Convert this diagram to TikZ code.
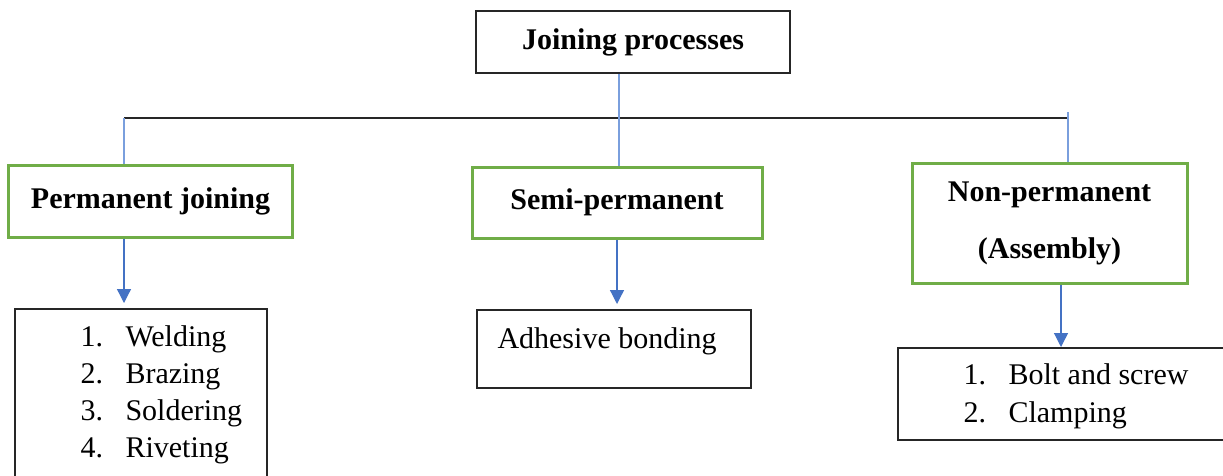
\documentclass[tikz,border=0pt]{standalone}
\usepackage{fontspec}
\setmainfont{Liberation Serif}
\usepackage{tikz}
\usetikzlibrary{arrows.meta}
\definecolor{catgreen}{HTML}{70AD47}
\definecolor{tipblue}{HTML}{4472C4}
\definecolor{linkblue}{HTML}{7A9FDD}
\tikzset{mainbox/.style={draw=black!85, line width=0.8pt, inner sep=0pt, font=\fontsize{12}{14}\selectfont\bfseries}}
\tikzset{catbox/.style={draw=catgreen, line width=1.2pt, inner sep=0pt, font=\fontsize{12}{22.8}\selectfont\bfseries}}
\tikzset{listbox/.style={draw=black!85, line width=0.8pt, inner sep=0pt}}
\tikzset{entry/.style={anchor=base west, inner sep=0pt, font=\fontsize{12}{14}\selectfont}}
\tikzset{link/.style={draw=linkblue, line width=0.5pt}}
\tikzset{down/.style={draw=tipblue, line width=0.5pt, -{Triangle[width=5.6pt,length=5.6pt]}}}
\newcommand{\numitem}[2]{\makebox[18pt][l]{#1}#2}

\begin{document}
\begin{tikzpicture}[x=0.4pt, y=-0.4pt]
\clip (0,0) rectangle (1223,475);
\fill[white] (0,0) rectangle (1223,475);
% top and category boxes
\node[mainbox, minimum width=125.6pt, minimum height=24.8pt] (jp) at (633,42) {Joining processes};
\node[catbox, minimum width=113.2pt, minimum height=28.8pt] (perm) at (150.5,201) {Permanent joining};
\node[catbox, minimum width=116pt, minimum height=28.4pt] (semi) at (617,202.5) {Semi-permanent};
\node[catbox, minimum width=110pt, minimum height=48pt, align=center] (nonp) at (1049.5,223) {Non-permanent\\(Assembly)};
% list boxes
\node[listbox, minimum width=100.8pt, minimum height=72.4pt] (permlist) at (141,399.5) {};
\node[entry] (weld) at (80,346) {\numitem{1.}{Welding}};
\node[entry] (braze) at (80,383) {\numitem{2.}{Brazing}};
\node[entry] (solder) at (80,420) {\numitem{3.}{Soldering}};
\node[entry] (rivet) at (80,457) {\numitem{4.}{Riveting}};
\node[listbox, minimum width=109.6pt, minimum height=31.2pt] (adh) at (614,349) {};
\node[entry] (adhtxt) at (497,348) {Adhesive bonding};
\node[listbox, minimum width=136.8pt, minimum height=36.8pt] (bolt) at (1069,394) {};
\node[entry] (boltscrew) at (963,384) {\numitem{1.}{Bolt and screw}};
\node[entry] (clamp) at (963,422) {\numitem{2.}{Clamping}};
% connectors
\coordinate (mid) at (619,118);
\coordinate (lt) at (124,118);
\coordinate (rt) at (1068,118);
\coordinate (rtop) at (1068,112);
\coordinate (nx) at (1061,283);
\draw[black!85, line width=0.6pt] (lt) -- (rt);
\draw[link] (jp.south -| mid) -- (semi.north -| mid);
\draw[link] (lt) -- (perm.north -| lt);
\draw[link] (rtop) -- (nonp.north -| rtop);
\draw[down] (perm.south -| lt) -- ([yshift=2pt]permlist.north -| lt);
\draw[down] (semi.south) -- ([yshift=2pt]adh.north -| semi.south);
\draw[down] (nonp.south -| nx) -- (bolt.north -| nx);
\end{tikzpicture}
\end{document}
